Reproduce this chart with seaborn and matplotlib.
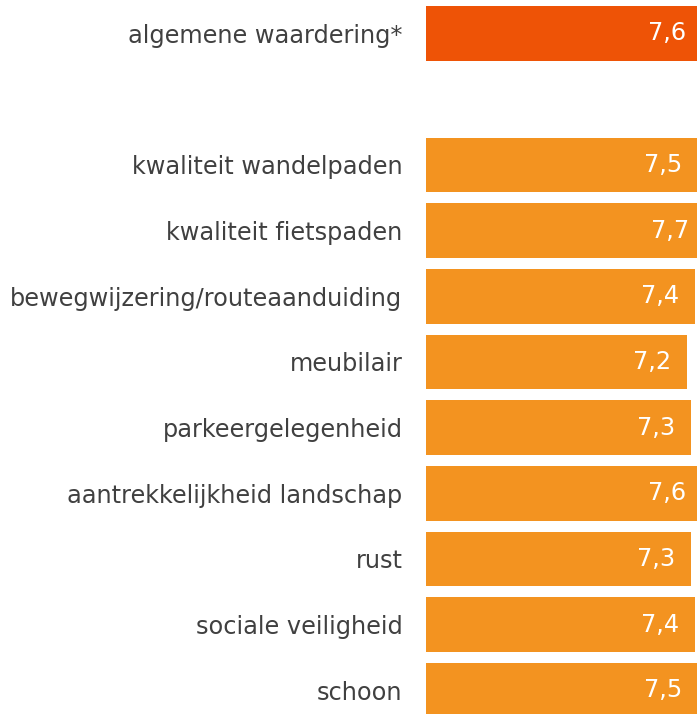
import numpy as np
import pandas as pd
import matplotlib
matplotlib.use("Agg")
import matplotlib.pyplot as plt
import seaborn as sns

labels = [
    "algemene waardering*",
    "kwaliteit wandelpaden",
    "kwaliteit fietspaden",
    "bewegwijzering/routeaanduiding",
    "meubilair",
    "parkeergelegenheid",
    "aantrekkelijkheid landschap",
    "rust",
    "sociale veiligheid",
    "schoon",
]
scores = [7.6, 7.5, 7.7, 7.4, 7.2, 7.3, 7.6, 7.3, 7.4, 7.5]

# empty slot between the overall score and the items
order = [labels[0], " "] + labels[1:]
colors = {lab: "#F39320" for lab in labels}
colors[labels[0]] = "#EE5306"

df = pd.DataFrame({"label": labels, "score": scores})

sns.set_style("white")
plt.rcParams["font.family"] = ["DejaVu Sans"]

fig = plt.figure(figsize=(6.97, 7.14), dpi=100)
ax = fig.add_axes([426 / 697, 0, 271 / 697, 1])

sns.barplot(
    data=df, x="score", y="label", hue="label", order=order,
    palette=colors, width=0.83, legend=False, ax=ax,
    orient="h", saturation=1, edgecolor="none"
)

for lab, val in zip(labels, scores):
    ax.annotate(
        f"{val:.1f}".replace(".", ","),
        xy=(val, order.index(lab)), xytext=(-35, 0),
        textcoords="offset pixels", ha="center", va="center",
        color="white", fontsize=17.3, annotation_clip=False
    )

ax.set_xlim(0, 271 / 36.3)
ax.set_ylim(10.36, -0.51)
ax.set_xlabel("")
ax.set_ylabel("")
ax.set_xticks([])
ax.tick_params(axis="y", length=0, pad=17, labelsize=17.3, labelcolor="#404040")
sns.despine(ax=ax, left=True, bottom=True)

fig.savefig("out.png", dpi=100)
plt.close(fig)
